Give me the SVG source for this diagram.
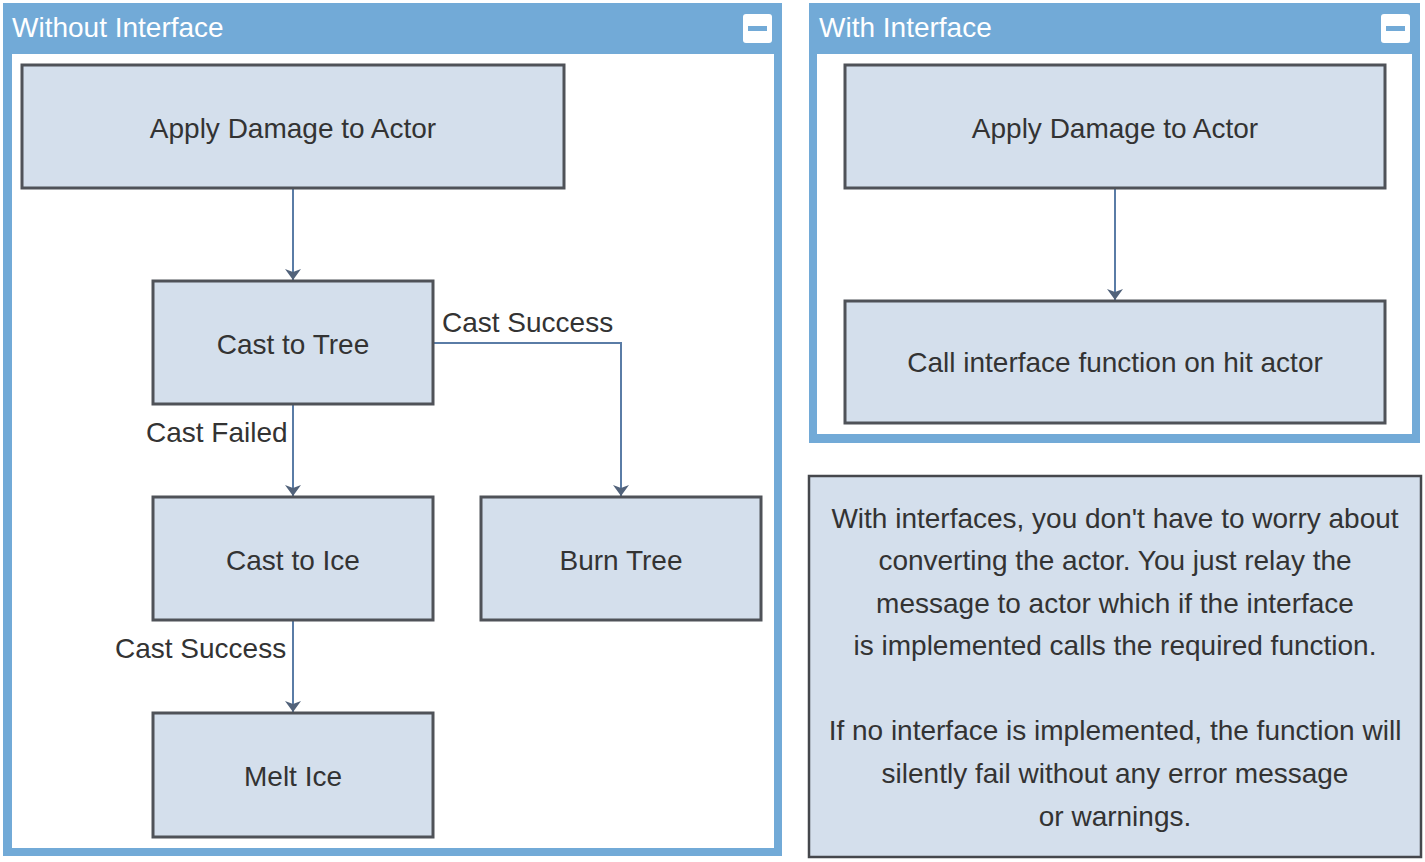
<svg xmlns="http://www.w3.org/2000/svg" width="1425" height="862" viewBox="0 0 1425 862">
<style>
.panel{fill:#72aad7;}
.inner{fill:#ffffff;}
.title{font-family:"Liberation Sans",Arial,sans-serif;font-size:28px;fill:#ffffff;}
.node{fill:#d4dfec;stroke:#4f5258;stroke-width:3;}
.note{fill:#d4dfec;stroke:#45474c;stroke-width:2.5;}
.txt{font-family:"Liberation Sans",Arial,sans-serif;font-size:28px;fill:#333333;text-anchor:middle;}
.lbl{font-family:"Liberation Sans",Arial,sans-serif;font-size:28px;fill:#333333;}
.edge{fill:none;stroke:#5a7ca6;stroke-width:2;}
.btn{fill:#ffffff;}
.bar{fill:#72aad7;}
</style>
<defs>
<marker id="arr" viewBox="0 0 11 16" refX="11" refY="8" markerWidth="11" markerHeight="16" markerUnits="userSpaceOnUse" orient="auto">
<path d="M0,0 L11,8 L0,16 L3,8 Z" fill="#51627a"/>
</marker>
</defs>

<g id="panel-without">
<rect class="panel" x="3" y="3" width="779" height="853"/>
<rect class="inner" x="12" y="54" width="762" height="794"/>
<text class="title" x="12" y="37">Without Interface</text>
<rect class="btn" x="743" y="14" width="29" height="29" rx="3"/>
<rect class="bar" x="748" y="26" width="19" height="5"/>
</g>

<g id="panel-with">
<rect class="panel" x="809" y="3" width="611" height="440"/>
<rect class="inner" x="817" y="54" width="595" height="380"/>
<text class="title" x="819" y="37">With Interface</text>
<rect class="btn" x="1381" y="14" width="29" height="29" rx="3"/>
<rect class="bar" x="1386" y="26" width="19" height="5"/>
</g>

<g id="connectors">
<line class="edge" x1="293" y1="188" x2="293" y2="280" marker-end="url(#arr)"/>
<line class="edge" x1="293" y1="404" x2="293" y2="496" marker-end="url(#arr)"/>
<polyline class="edge" points="433,343 621,343 621,496" marker-end="url(#arr)"/>
<line class="edge" x1="293" y1="620" x2="293" y2="712" marker-end="url(#arr)"/>
<line class="edge" x1="1115" y1="188" x2="1115" y2="300" marker-end="url(#arr)"/>
<text class="lbl" x="442" y="332">Cast Success</text>
<text class="lbl" x="146" y="442">Cast Failed</text>
<text class="lbl" x="115" y="658">Cast Success</text>
</g>

<g id="node-apply-left">
<rect class="node" x="22" y="65" width="542" height="123"/>
<text class="txt" x="293" y="138">Apply Damage to Actor</text>
</g>
<g id="node-cast-tree">
<rect class="node" x="153" y="281" width="280" height="123"/>
<text class="txt" x="293" y="354">Cast to Tree</text>
</g>
<g id="node-cast-ice">
<rect class="node" x="153" y="497" width="280" height="123"/>
<text class="txt" x="293" y="570">Cast to Ice</text>
</g>
<g id="node-burn-tree">
<rect class="node" x="481" y="497" width="280" height="123"/>
<text class="txt" x="621" y="570">Burn Tree</text>
</g>
<g id="node-melt-ice">
<rect class="node" x="153" y="713" width="280" height="124"/>
<text class="txt" x="293" y="786">Melt Ice</text>
</g>

<g id="node-apply-right">
<rect class="node" x="845" y="65" width="540" height="123"/>
<text class="txt" x="1115" y="138">Apply Damage to Actor</text>
</g>
<g id="node-call-interface">
<rect class="node" x="845" y="301" width="540" height="122"/>
<text class="txt" x="1115" y="372">Call interface function on hit actor</text>
</g>

<g id="note">
<rect class="note" x="809" y="476" width="612" height="381"/>
<text class="txt" x="1115" y="528">With interfaces, you don't have to worry about</text>
<text class="txt" x="1115" y="570">converting the actor. You just relay the</text>
<text class="txt" x="1115" y="613">message to actor which if the interface</text>
<text class="txt" x="1115" y="655">is implemented calls the required function.</text>
<text class="txt" x="1115" y="740">If no interface is implemented, the function will</text>
<text class="txt" x="1115" y="783">silently fail without any error message</text>
<text class="txt" x="1115" y="826">or warnings.</text>
</g>
</svg>
